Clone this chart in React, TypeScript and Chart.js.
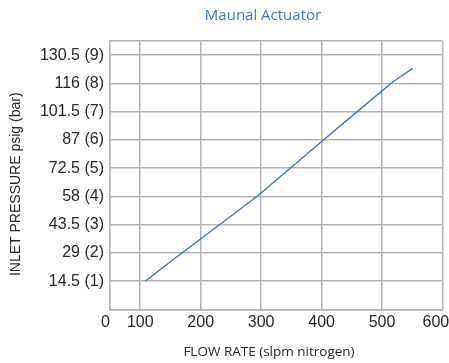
import React, { useEffect, useRef } from "react";
import { Chart, registerables } from "chart.js";

Chart.register(...registerables);

const TITLE = "Maunal Actuator";
const X_TITLE = "FLOW RATE (slpm nitrogen)";
const Y_TITLE = "INLET PRESSURE psig (bar)";

const flowRate = [108, 169, 231, 293, 348, 403, 459, 518, 551];
const pressureBar = [1.0, 2.0, 3.0, 4.0, 5.0, 6.0, 7.0, 8.06, 8.53];

const xTickValues = [50, 100, 200, 300, 400, 500, 600];
const xTickLabels = ["0  ", "100", "200", "300", "400", "500", "600   "];
const yTickValues = [0, 1, 2, 3, 4, 5, 6, 7, 8, 9, 9.5];
const yTickLabels = ["", "14.5 (1)", "29 (2)", "43.5 (3)", "58 (4)", "72.5 (5)", "87 (6)", "101.5 (7)", "116 (8)", "130.5 (9)", ""];

const X_MIN = 50;
const X_MAX = 600;
const Y_MIN = 0;
const Y_MAX = 9.5;

const titlesPlugin = {
  id: "customTitles",
  afterDraw(chart: any) {
    const { ctx, chartArea } = chart;
    ctx.save();
    ctx.textAlign = "center";
    ctx.textBaseline = "middle";
    ctx.fillStyle = "#3b78bf";
    ctx.font = "15px 'Open Sans', sans-serif";
    ctx.fillText(TITLE, 263, 16);
    ctx.fillStyle = "#262626";
    ctx.font = "13.5px 'Open Sans', sans-serif";
    ctx.fillText(X_TITLE, 269, 352);
    ctx.translate(16, (chartArea.top + chartArea.bottom) / 2 + 9);
    ctx.rotate(-Math.PI / 2);
    ctx.font = "14px 'Liberation Sans', Arial, sans-serif";
    ctx.fillText(Y_TITLE, 0, 0);
    ctx.restore();
  },
};

export default function App() {
  const ref = useRef<HTMLCanvasElement>(null);
  useEffect(() => {
    if (!ref.current) return;
    const points = flowRate.map((x, i) => ({ x, y: pressureBar[i] }));
    const gridColor = "#b3b3b3";
    const tickFont = { family: "'Liberation Sans', Arial, sans-serif", size: 16 };
    const chart = new Chart(ref.current, {
      type: "line",
      data: {
        datasets: [
          {
            data: points,
            borderColor: "#3b78bf",
            borderWidth: 1.4,
            pointRadius: 0,
            tension: 0,
            fill: false,
          },
        ],
      },
      plugins: [titlesPlugin],
      options: {
        animation: false,
        responsive: false,
        maintainAspectRatio: false,
        layout: { padding: { left: 0, right: 6.5, top: 41, bottom: 0 } },
        plugins: {
          legend: { display: false },
          tooltip: { enabled: false },
          title: { display: false },
        },
        scales: {
          x: {
            type: "linear",
            min: X_MIN,
            max: X_MAX,
            afterBuildTicks: (s: any) => {
              s.ticks = xTickValues.map((v) => ({ value: v }));
            },
            afterFit: (s: any) => {
              s.height = 53.5;
              s.paddingLeft = 0;
              s.paddingRight = 0;
            },
            ticks: {
              color: "#262626",
              font: tickFont,
              padding: 3,
              maxRotation: 0,
              autoSkip: false,
              callback: (v: any) => {
                const i = xTickValues.indexOf(Number(v));
                return i >= 0 ? xTickLabels[i] : "";
              },
            },
            grid: { color: gridColor, lineWidth: 1.5, drawTicks: false },
            border: { color: gridColor, width: 1.5 },
          },
          y: {
            type: "linear",
            min: Y_MIN,
            max: Y_MAX,
            afterBuildTicks: (s: any) => {
              s.ticks = yTickValues.map((v) => ({ value: v }));
            },
            afterFit: (s: any) => {
              s.width = 110;
              s.paddingTop = 0;
              s.paddingBottom = 0;
            },
            ticks: {
              color: "#262626",
              font: tickFont,
              padding: 6,
              autoSkip: false,
              callback: (v: any) => {
                const i = yTickValues.indexOf(Number(v));
                return i >= 0 ? yTickLabels[i] : "";
              },
            },
            grid: { color: gridColor, lineWidth: 1.5, drawTicks: false },
            border: { color: gridColor, width: 1.5 },
          },
        },
      },
    });
    return () => chart.destroy();
  }, []);
  return (
    <div style={{ position: "fixed", left: 0, top: 0, width: 449, height: 363, background: "#fff" }}>
      <canvas ref={ref} width={449} height={363} style={{ width: 449, height: 363 }} />
    </div>
  );
}
